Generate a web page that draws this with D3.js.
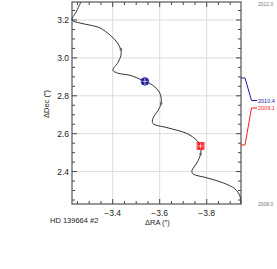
<!DOCTYPE html>
<html>
<head>
<meta charset="utf-8">
<script src="https://cdn.jsdelivr.net/npm/d3@7"></script>
<style>
  body { margin: 0; background: #fff; }
  svg { display: block; font-family: "Liberation Sans", Arial, sans-serif; }
</style>
</head>
<body>
<div id="chart"></div>
<script>
// orbit path (ΔRA, ΔDec in arcsec), from 2012.0 down to 2008.0
const pathRA = [-3.265, -3.244, -3.227, -3.261, -3.303, -3.346, -3.389, -3.418, -3.435, -3.435,
  -3.423, -3.401, -3.423, -3.474, -3.537, -3.571, -3.601, -3.606, -3.593, -3.571, -3.571,
  -3.631, -3.716, -3.759, -3.774, -3.774, -3.759, -3.737, -3.742, -3.801, -3.869, -3.920,
  -3.941, -3.946];
const pathDec = [3.295, 3.242, 3.200, 3.184, 3.173, 3.158, 3.120, 3.083, 3.041, 3.014,
  2.977, 2.935, 2.919, 2.908, 2.876, 2.855, 2.813, 2.760, 2.723, 2.680, 2.654,
  2.632, 2.601, 2.563, 2.535, 2.493, 2.447, 2.404, 2.388, 2.367, 2.341, 2.309,
  2.272, 2.229];

// yearly dots on the path
const dotRA = [-3.435, -3.606, -3.774];
const dotDec = [3.045, 2.760, 2.493];

// observation epochs
const obsLabels = ["2010.4", "2009.1"];
const obsRA = [-3.537, -3.774];
const obsDec = [2.876, 2.535];
const obsColors = ["#1c1ca0", "#ff1a1a"];

const endLabels = ["2012.0", "2008.0"];

const xTicks = [-3.4, -3.6, -3.8];
const yTicks = [2.4, 2.6, 2.8, 3.0, 3.2];

const width = 277, height = 269;
const pL = 72, pR = 241, pT = 2, pB = 204;

const x = d3.scaleLinear().domain([-3.2268, -3.946]).range([pL, pR]);
const y = d3.scaleLinear().domain([3.295, 2.229]).range([pT, pB]);

const svg = d3.select("#chart").append("svg")
  .attr("width", width).attr("height", height);

// grid
svg.append("g").selectAll("line").data(xTicks).join("line")
  .attr("x1", d => x(d)).attr("x2", d => x(d)).attr("y1", pT).attr("y2", pB)
  .attr("stroke", "#dcdcdc").attr("stroke-width", 1);
svg.append("g").selectAll("line").data(yTicks).join("line")
  .attr("x1", pL).attr("x2", pR).attr("y1", d => y(d)).attr("y2", d => y(d))
  .attr("stroke", "#dcdcdc").attr("stroke-width", 1);

// inward ticks on all four sides
const xMinor = d3.range(-3.25, -3.95, -0.05)
  .filter(v => x(v) > pL + 1 && x(v) < pR - 1 && !xTicks.some(t => Math.abs(t - v) < 1e-6));
const yMinor = d3.range(2.25, 3.3, 0.05)
  .filter(v => y(v) > pT + 1 && y(v) < pB - 1 && !yTicks.some(t => Math.abs(t - v) < 1e-6));

function xTickMarks(vals, len) {
  [[pB, -1], [pT, 1]].forEach(([base, dir]) => {
    svg.append("g").selectAll("line").data(vals).join("line")
      .attr("x1", d => x(d)).attr("x2", d => x(d))
      .attr("y1", base).attr("y2", base + dir * len)
      .attr("stroke", "#444").attr("stroke-width", 1);
  });
}
function yTickMarks(vals, len) {
  [[pL, 1], [pR, -1]].forEach(([base, dir]) => {
    svg.append("g").selectAll("line").data(vals).join("line")
      .attr("y1", d => y(d)).attr("y2", d => y(d))
      .attr("x1", base).attr("x2", base + dir * len)
      .attr("stroke", "#444").attr("stroke-width", 1);
  });
}
xTickMarks(xTicks, 5);
xTickMarks(xMinor, 3);
yTickMarks(yTicks, 5);
yTickMarks(yMinor, 3);

// frame
svg.append("rect").attr("x", pL).attr("y", pT)
  .attr("width", pR - pL).attr("height", pB - pT)
  .attr("fill", "none").attr("stroke", "#555").attr("stroke-width", 1.2);

// tick labels
svg.append("g").selectAll("text").data(xTicks).join("text")
  .attr("x", d => x(d)).attr("y", 216).attr("text-anchor", "middle")
  .attr("font-size", 8.5).attr("fill", "#222")
  .text(d => "\u2212" + Math.abs(d).toFixed(1));
svg.append("g").selectAll("text").data(yTicks).join("text")
  .attr("x", pL - 3).attr("y", d => y(d) + 3).attr("text-anchor", "end")
  .attr("font-size", 8.5).attr("fill", "#222")
  .text(d => d.toFixed(1));

// axis titles
svg.append("text").attr("x", 145).attr("y", 225).attr("font-size", 7.5).attr("fill", "#222")
  .text("\u0394RA  (\u2033)");
svg.append("text").attr("transform", "translate(49,104) rotate(-90)")
  .attr("text-anchor", "middle").attr("font-size", 7.5).attr("fill", "#222")
  .text("\u0394Dec  (\u2033)");
svg.append("text").attr("x", 50).attr("y", 223).attr("font-size", 7.5).attr("fill", "#222")
  .text("HD 139664  #2");

// path
const pts = pathRA.map((r, i) => [r, pathDec[i]]);
svg.append("path").datum(pts)
  .attr("d", d3.line().x(d => x(d[0])).y(d => y(d[1])).curve(d3.curveCatmullRom.alpha(0.5)))
  .attr("fill", "none").attr("stroke", "#333").attr("stroke-width", 1);

svg.append("g").selectAll("circle").data(dotRA).join("circle")
  .attr("cx", d => x(d)).attr("cy", (d, i) => y(dotDec[i])).attr("r", 1.3)
  .attr("fill", "#666");

// observation markers
obsRA.forEach((r, i) => {
  const cx = x(r), cy = y(obsDec[i]);
  const g = svg.append("g");
  g.append("rect").attr("x", cx - 3).attr("y", cy - 3).attr("width", 6).attr("height", 6)
    .attr("fill", obsColors[i]);
  if (i === 0) {
    g.append("circle").attr("cx", cx).attr("cy", cy).attr("r", 3.8)
      .attr("fill", "none").attr("stroke", obsColors[i]).attr("stroke-width", 1);
  } else {
    g.append("rect").attr("x", cx - 3.5).attr("y", cy - 3.5).attr("width", 7).attr("height", 7)
      .attr("fill", "none").attr("stroke", obsColors[i]).attr("stroke-width", 0.8);
  }
  g.append("line").attr("x1", cx - 2.5).attr("x2", cx + 2.5).attr("y1", cy).attr("y2", cy)
    .attr("stroke", "#fff").attr("stroke-width", 0.7);
  g.append("line").attr("x1", cx).attr("x2", cx).attr("y1", cy - 2.5).attr("y2", cy + 2.5)
    .attr("stroke", "#fff").attr("stroke-width", 0.7);
});

// epoch labels on the right, joined to the right axis (time runs down the right edge)
const timeY = d3.scaleLinear().domain([2012.0, 2008.0]).range([-4.4, 201.6]);
const labelY = [100.5, 108];
obsLabels.forEach((lab, i) => {
  const ty = timeY(+lab);
  svg.append("path")
    .attr("d", `M${pR},${ty}H${pR + 4}L${pR + 10.5},${labelY[i]}H${pR + 16}`)
    .attr("fill", "none").attr("stroke", obsColors[i]).attr("stroke-width", 1);
  svg.append("text").attr("x", pR + 17).attr("y", labelY[i] + 2)
    .attr("font-size", 5.5).attr("fill", obsColors[i]).text(lab);
});
const endY = [6, 206];
endLabels.forEach((lab, i) => {
  svg.append("text").attr("x", pR + 17).attr("y", endY[i])
    .attr("font-size", 5).attr("fill", "#777").text(lab);
});
</script>
</body>
</html>
